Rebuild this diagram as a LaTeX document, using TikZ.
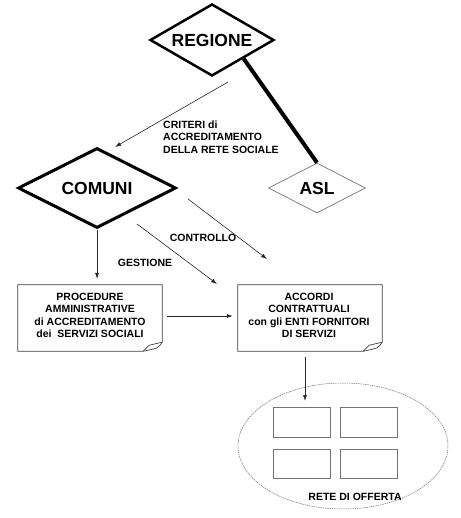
\documentclass[tikz,border=0pt]{standalone}
\usepackage{fontspec}
\setmainfont{Liberation Sans}
\usetikzlibrary{shapes.geometric,arrows.meta,calc}
\newcommand{\foldoutline}[1]{%
  \draw[boxline] (#1.north west) -- (#1.north east) -- ($(#1.south east)+(0,-9)$)
     .. controls ($(#1.south east)+(-4,-3)$) .. ($(#1.south east)+(-19,0)$)
     -- (#1.south west) -- cycle;
  \draw[boxline] ($(#1.south east)+(0,-9)$)
     .. controls ($(#1.south east)+(-6,-8)$) .. ($(#1.south east)+(-13,-6)$)
     -- ($(#1.south east)+(-19,0)$);}
\begin{document}
\begin{tikzpicture}[x=1pt,y=-1pt,
  arr/.style={-{Latex[length=6pt,width=4pt]}, line width=0.6pt, black!85},
  big/.style={font=\fontsize{17.5}{20}\selectfont\bfseries},
  lab/.style={font=\fontsize{10.5}{12.5}\selectfont\bfseries, inner sep=0pt},
  boxtxt/.style={font=\fontsize{10.5}{12.3}\selectfont\bfseries, align=center, inner sep=0pt},
  docbox/.style={boxtxt, minimum width=144pt, minimum height=66pt},
  boxline/.style={draw=black!75, line width=0.7pt},
  dia/.style={diamond, draw, inner sep=0pt, big},
  smallbox/.style={draw=black!55, line width=0.8pt, minimum width=57pt, minimum height=29.5pt, inner sep=0pt}
]
\useasboundingbox (0,0) rectangle (460,518);

% diamonds
\node[dia, line width=2.5pt, aspect=1.71, minimum width=124pt, minimum height=72pt] (regione) at (212,40) {REGIONE};
\node[dia, line width=3pt, aspect=1.95, minimum width=158pt, minimum height=80pt] (comuni) at (97,188) {COMUNI};
\node[dia, draw=black!55, line width=0.7pt, aspect=1.94, minimum width=97pt, minimum height=50pt] (asl) at (317,188) {ASL};

% thick link
\draw[line width=4pt] (regione.south east) -- (asl.north);

% criteri arrow
\coordinate (critS) at (228,82);
\coordinate (critE) at (115,147);
\draw[arr] (critS) -- (critE);
\node[lab, anchor=west, align=left] (criteri) at (163,137) {CRITERI di\\ACCREDITAMENTO\\DELLA RETE SOCIALE};

% document boxes
\node[docbox] (proc) at (90,318) {};
\node[docbox] (acc) at (310,318) {};
\node[boxtxt] (proct) at (90,315.5) {PROCEDURE\\AMMINISTRATIVE\\di ACCREDITAMENTO\\dei\ \ SERVIZI SOCIALI};
\node[boxtxt] (acct) at (309,315.5) {ACCORDI\\CONTRATTUALI\\con gli ENTI FORNITORI\\DI SERVIZI};
\foldoutline{proc}
\foldoutline{acc}

% comuni down arrow
\draw[arr, shorten >=6pt] (comuni.south) -- (comuni.south |- proc.north);

% gestione / controllo arrows
\coordinate (gesS) at (137,224);
\coordinate (gesE) at (217,284);
\coordinate (conS) at (188,199);
\coordinate (conE) at (267,259);
\draw[arr] (gesS) -- (gesE);
\draw[arr] (conS) -- (conE);
\node[lab] (gestione) at (145,263) {GESTIONE};
\node[lab] (controllo) at (203,238) {CONTROLLO};

% proc -> acc
\draw[arr, shorten <=5pt, shorten >=5pt] ($(proc.east)+(0,-2)$) -- ($(acc.west)+(0,-2)$);

% ellipse
\node[ellipse, draw=black!55, line width=0.5pt, dash pattern=on 1.5pt off 0.8pt, minimum width=210pt, minimum height=126pt, inner sep=0pt] (rete) at (343,446) {};
\node[smallbox] (s1) at (301.5,422.5) {};
\node[smallbox] (s2) at (369,422.5) {};
\node[smallbox] (s3) at (301.5,464) {};
\node[smallbox] (s4) at (369,464) {};
\node[boxtxt] (retelab) at (355,497) {RETE DI OFFERTA};

% acc -> rete
\coordinate (reteE) at (305,401);
\draw[arr] ($(acc.south)+(-5,6)$) -- (reteE);
\end{tikzpicture}
\end{document}
